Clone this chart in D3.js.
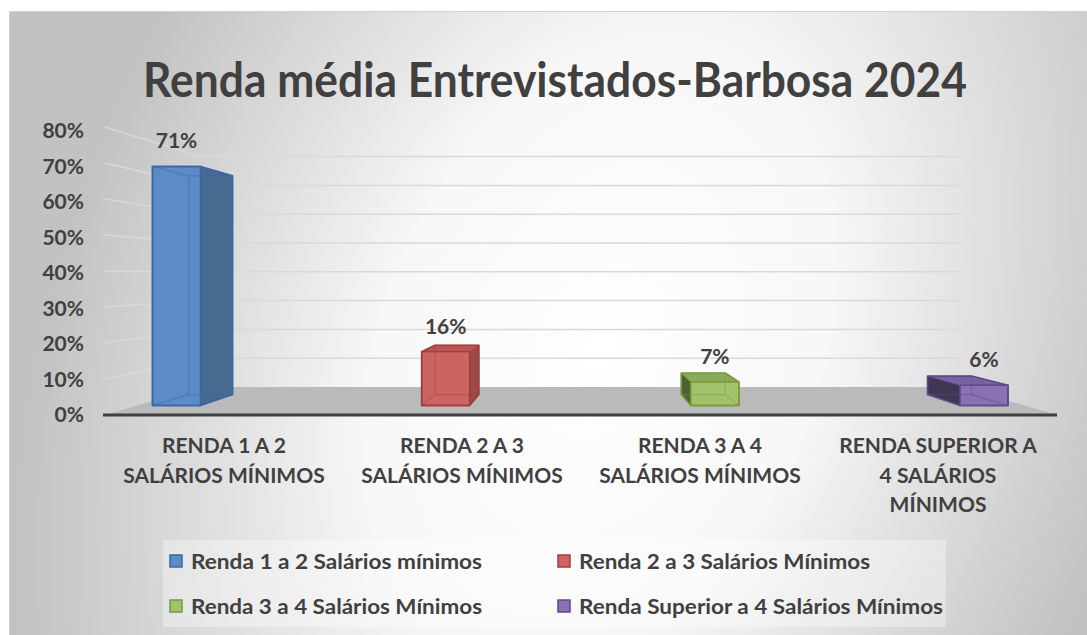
<!DOCTYPE html>
<html>
<head>
<meta charset="utf-8">
<script src="https://cdn.jsdelivr.net/npm/d3@7"></script>
<style>
  body { margin: 0; background: #ffffff; }
  svg { display: block; }
  text { font-family: Lato, "Open Sans", sans-serif; font-weight: bold; fill: #404040; }
</style>
</head>
<body>
<svg id="chart" width="1087" height="635"></svg>
<script>
// data
var categories = ["Renda 1 a 2", "Renda 2 a 3", "Renda 3 a 4", "Renda Superior a 4"];
var catLines = [
  ["RENDA 1 A 2", "SALÁRIOS MÍNIMOS"],
  ["RENDA 2 A 3", "SALÁRIOS MÍNIMOS"],
  ["RENDA 3 A 4", "SALÁRIOS MÍNIMOS"],
  ["RENDA SUPERIOR A", "4 SALÁRIOS", "MÍNIMOS"]
];
var seriesNames = [
  "Renda 1 a 2 Salários mínimos",
  "Renda 2 a 3 Salários Mínimos",
  "Renda 3 a 4 Salários Mínimos",
  "Renda Superior a 4 Salários Mínimos"
];
var values = [0.71, 0.16, 0.07, 0.06];
var yTicks = [0, 0.1, 0.2, 0.3, 0.4, 0.5, 0.6, 0.7, 0.8];
var title = "Renda média Entrevistados-Barbosa 2024";

// styles
var frontCol  = ["#5b8cc7", "#cc6464", "#a3c36a", "#8b71b2"];
var sideCol   = ["#476a91", "#9a4a4a", "#4f6033", "#3f3652"];
var topCol    = ["#4f7fba", "#b85554", "#8ba957", "#7862a0"];
var strokeCol = ["#3a66a6", "#a33d3b", "#789a3c", "#5e4a8c"];

var svg = d3.select("#chart");
var defs = svg.append("defs");

var grad = defs.append("radialGradient")
    .attr("id", "bg")
    .attr("gradientUnits", "userSpaceOnUse")
    .attr("cx", 0).attr("cy", 0).attr("r", 1)
    .attr("gradientTransform", "translate(600,350) rotate(22) scale(540,800)");
[[0, "#ffffff"], [0.4, "#f7f7f7"], [0.7, "#dcdcdc"], [1, "#c2c2c2"]].forEach(function(s) {
  grad.append("stop").attr("offset", s[0]).attr("stop-color", s[1]);
});

svg.append("rect")
    .attr("x", 9.5).attr("y", 11.5)
    .attr("width", 1100).attr("height", 640)
    .attr("fill", "url(#bg)")
    .attr("stroke", "#d2d2d2");

// title
svg.append("text")
    .attr("x", 555).attr("y", 97)
    .attr("text-anchor", "middle")
    .attr("font-size", 47)
    .attr("textLength", 824)
    .attr("lengthAdjust", "spacingAndGlyphs")
    .text(title);

// scales
var x = d3.scaleBand().domain(categories).range([105, 1057]);
var xBar = d3.scalePoint().domain(categories).range([176.5, 984]);
var yLabel = d3.scaleLinear().domain([0, 0.8]).range([415, 131]);
var yGrid = d3.scaleLinear().domain([0, 0.8]).range([415, 127]);
var yBar = d3.scaleLinear().domain([0, 0.8]).range([405.5, 136.2]);

// perspective: walls shrink towards vpAxis, bars towards vpBar
var vpAxis = {x: 580, y: 275}, backS = 0.8;
var vpBar = {x: 578, y: 277}, barS = 0.915;
function toBack(px, py, vp, s) { return [vp.x + s * (px - vp.x), vp.y + s * (py - vp.y)]; }

var xl = x.range()[0], xr = x.range()[1];

// wall gridlines
var line = d3.line();
svg.append("g")
  .selectAll("path")
  .data(yTicks.filter(function(d) { return d > 0; }))
  .enter().append("path")
    .attr("d", function(d) {
      var f = [xl, yGrid(d)];
      return line([f, toBack(f[0], f[1], vpAxis, backS), toBack(xr, yGrid(d), vpAxis, backS)]);
    })
    .attr("fill", "none")
    .attr("stroke", "#d9d9d9")
    .attr("stroke-width", 1.5);

// floor
var floorPts = [[xl, yGrid(0)], [xr, yGrid(0)],
  toBack(xr, yGrid(0), vpAxis, backS), toBack(xl, yGrid(0), vpAxis, backS)];
svg.append("path")
    .attr("d", line(floorPts) + "Z")
    .attr("fill", "#bababa");
svg.append("line")
    .attr("x1", xl - 2).attr("x2", xr)
    .attr("y1", yGrid(0)).attr("y2", yGrid(0))
    .attr("stroke", "#404040")
    .attr("stroke-width", 3);

// y axis labels
var yAxis = svg.append("g")
    .attr("transform", "translate(84,0)")
    .call(d3.axisLeft(yLabel).tickValues(yTicks).tickFormat(d3.format(".0%")).tickSize(0).tickPadding(0));
yAxis.select(".domain").remove();
yAxis.selectAll("text")
    .attr("font-size", 21)
    .attr("fill", "#404040");
yAxis.attr("font-family", null).attr("font-size", null);

// bars as transparent boxes
var bars = svg.append("g");
values.forEach(function(v, i) {
  var c = xBar(categories[i]), hw = 24;
  var x0 = c - hw, x1 = c + hw, yt = yBar(v), yb = yBar(0);
  var f = [[x0, yt], [x1, yt], [x1, yb], [x0, yb]];
  var b = f.map(function(p) { return toBack(p[0], p[1], vpBar, barS); });
  var faces = {
    back: [b[0], b[1], b[2], b[3]],
    left: [f[0], b[0], b[3], f[3]],
    right: [f[1], b[1], b[2], f[2]],
    top: [f[0], f[1], b[1], b[0]],
    front: f
  };
  var showRight = c < vpBar.x;
  var showTop = yt > vpBar.y;
  var g = bars.append("g");

  g.append("path").attr("d", line(faces.back) + "Z").attr("fill", frontCol[i]);
  g.append("path").attr("d", line(showRight ? faces.left : faces.right) + "Z").attr("fill", frontCol[i]);
  g.append("path").attr("d", line(showRight ? faces.right : faces.left) + "Z").attr("fill", sideCol[i]);
  if (showTop) g.append("path").attr("d", line(faces.top) + "Z").attr("fill", topCol[i]);
  g.append("path").attr("d", line(faces.front) + "Z").attr("fill", frontCol[i]);

  // all edges faintly (seen through the box)
  var edges = [[f[0], f[1]], [f[1], f[2]], [f[2], f[3]], [f[3], f[0]],
               [b[0], b[1]], [b[1], b[2]], [b[2], b[3]], [b[3], b[0]],
               [f[0], b[0]], [f[1], b[1]], [f[2], b[2]], [f[3], b[3]]];
  g.selectAll(".e").data(edges).enter().append("path")
      .attr("d", function(e) { return line(e); })
      .attr("stroke", strokeCol[i]).attr("stroke-opacity", 0.45)
      .attr("stroke-width", 1.2).attr("fill", "none");

  // outline of visible faces
  var outline;
  if (showRight) outline = showTop ? [f[0], b[0], b[1], b[2], f[2], f[3]] : [f[0], f[1], b[1], b[2], f[2], f[3]];
  else outline = showTop ? [b[0], b[1], f[1], f[2], f[3], b[3]] : [b[0], f[0], f[1], f[2], f[3], b[3]];
  g.append("path").attr("d", line(outline) + "Z")
      .attr("fill", "none").attr("stroke", strokeCol[i]).attr("stroke-width", 1.6)
      .attr("stroke-linejoin", "round");
  g.append("path").attr("d", line(faces.front) + "Z")
      .attr("fill", "none").attr("stroke", strokeCol[i]).attr("stroke-width", 1.4);

  // value label
  svg.append("text")
      .attr("x", c).attr("y", yt - 18)
      .attr("text-anchor", "middle")
      .attr("font-size", 21)
      .text(d3.format(".0%")(v));
});

// category labels
var cat = svg.append("g");
catLines.forEach(function(lines, i) {
  var t = cat.append("text")
      .attr("text-anchor", "middle")
      .attr("font-size", 21);
  lines.forEach(function(l, k) {
    t.append("tspan")
        .attr("x", x(categories[i]) + x.bandwidth() / 2)
        .attr("y", 453 + k * 29.5)
        .text(l);
  });
});

// legend
var leg = svg.append("g");
leg.append("rect")
    .attr("x", 163).attr("y", 540)
    .attr("width", 783).attr("height", 87)
    .attr("fill", "#ffffff").attr("fill-opacity", 0.35);
var legX = [170, 558], legY = [561, 606], legW = [291, 291, 291, 364];
seriesNames.forEach(function(name, i) {
  var lx = legX[i % 2], ly = legY[Math.floor(i / 2)];
  leg.append("rect")
      .attr("x", lx).attr("y", ly - 6)
      .attr("width", 12).attr("height", 12)
      .attr("fill", frontCol[i])
      .attr("stroke", strokeCol[i]).attr("stroke-width", 1.5);
  leg.append("text")
      .attr("x", lx + 21).attr("y", ly + 7.5)
      .attr("font-size", 21)
      .attr("textLength", legW[i])
      .attr("lengthAdjust", "spacingAndGlyphs")
      .text(name);
});
</script>
</body>
</html>
